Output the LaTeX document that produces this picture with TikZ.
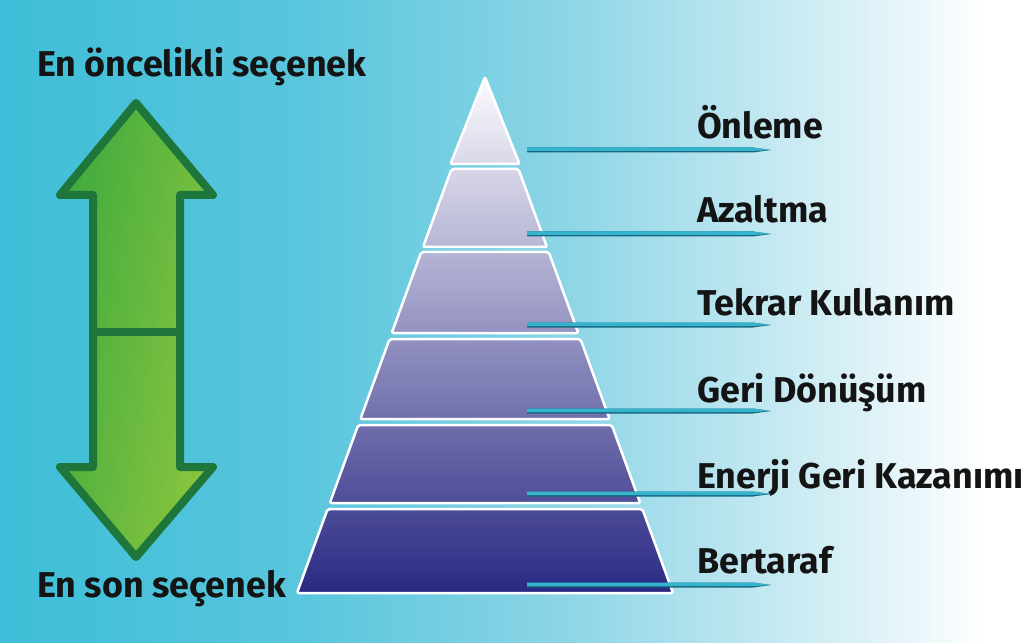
\documentclass[tikz,border=0pt]{standalone}
\usepackage{fontspec}
\setmainfont{Fira Sans}
\definecolor{bgcyan}{RGB}{62,190,216}
\definecolor{bgmid}{RGB}{90,198,221}
\definecolor{bglight}{RGB}{140,213,230}
\definecolor{bgpale}{RGB}{195,232,241}
\definecolor{bgwhite}{RGB}{230,245,249}
\definecolor{pyrtop}{RGB}{252,251,254}
\definecolor{pyrbot}{RGB}{42,41,131}
\definecolor{arrowline}{RGB}{30,118,58}
\definecolor{arrowdark}{RGB}{62,170,62}
\definecolor{arrowlight}{RGB}{140,198,63}
\definecolor{pointerlight}{RGB}{52,180,205}
\definecolor{pointerdark}{RGB}{24,104,130}
\pgfdeclarehorizontalshading{bgshade}{100bp}{color(0bp)=(bgcyan); color(25bp)=(bgcyan);
  color(40bp)=(bgmid); color(52.5bp)=(bglight); color(62.5bp)=(bgpale);
  color(69bp)=(bgwhite); color(73bp)=(white); color(100bp)=(white)}
\tikzset{
  layer/.style = {draw=white, line width=2.5bp, rounded corners=2bp,
    path picture={\shade[top color=pyrtop, bottom color=pyrbot]
      (297,77) rectangle (673,593);}},
  label/.style = {anchor=base west, inner sep=0pt, text=black!92,
    font=\bfseries\fontsize{36}{42}\selectfont},
}
\begin{document}
\begin{tikzpicture}[x=1bp,y=-1bp]
\shade[shading=bgshade] (0,0) rectangle (1024,643);
\useasboundingbox (0,0) rectangle (1024,643);
% arrow, both ways
\path[draw=arrowline, line width=8bp, line join=round,
  left color=arrowdark, right color=arrowlight, shading angle=80]
  (136,103) -- (213,195) -- (180,195) -- (180,467) -- (213,467) -- (136,557)
  -- (60,467) -- (93,467) -- (93,195) -- (60,195) -- cycle;
\draw[arrowline, line width=8bp] (93,332) -- (180,332);
\node[label] (first) at (37,77) {En öncelikli seçenek};
\node[label] (last) at (37,597) {En son seçenek};
% pyramid
\path[layer] (485,77) -- (519.5,164) -- (450.5,164) -- cycle;
\foreach \t/\b/\py/\ty/\txt [count=\i] in {
    77/164/150/139/Önleme, 169/247/234/223/Azaltma,
    252/333/325/315/Tekrar Kullanım, 339/419/411/402/Geri Dönüşüm,
    425/503/494/488/Enerji Geri Kazanımı, 509/593/585/573/Bertaraf}{
  \pgfmathsetmacro\wt{(\t-77)/516*188}
  \pgfmathsetmacro\wb{(\b-77)/516*188}
  \ifnum\i>1
    \path[layer] (485-\wt,\t) -- (485+\wt,\t) -- (485+\wb,\b) -- (485-\wb,\b) -- cycle;
  \fi
  \coordinate (p\i) at (527,\py);
  \coordinate (e\i) at (771,\py);
  \node[label] (l\i) at (697,\ty) {\txt};
  \fill[pointerdark] ([yshift=2.5bp]p\i) -- ([xshift=-18bp,yshift=2.5bp]e\i) -- (e\i)
    -- ([xshift=-18bp,yshift=-2.5bp]e\i) -- ([yshift=-2.5bp]p\i) -- cycle;
  \fill[pointerlight] ([yshift=2.5bp]p\i) -- ([xshift=-18bp,yshift=2.5bp]e\i) -- (e\i)
    -- ([xshift=-18bp,yshift=-1bp]e\i) -- ([yshift=-1bp]p\i) -- cycle;
}
\end{tikzpicture}
\end{document}
